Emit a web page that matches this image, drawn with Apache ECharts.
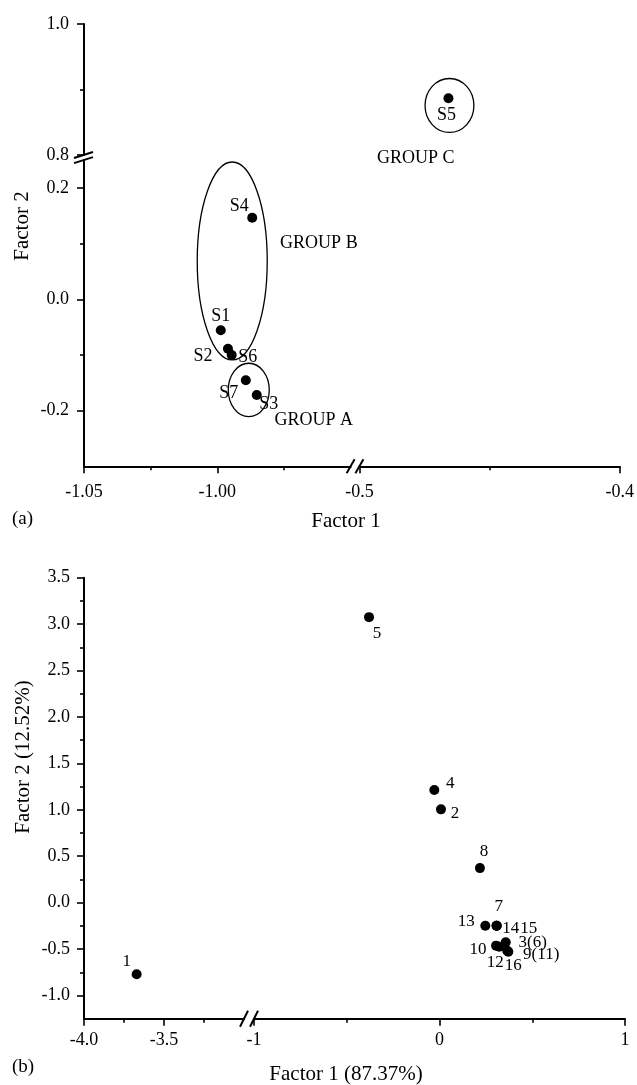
<!DOCTYPE html>
<html><head><meta charset="utf-8">
<script src="https://cdn.jsdelivr.net/npm/echarts@6/dist/echarts.min.js"></script>
<style>html,body{margin:0;padding:0;background:#fff}#c{width:637px;height:1085px}</style>
</head><body><div id="c"></div>
<script>
// ---------- DATA ----------
// Panel (a): samples in lower-left segment
const aNames = ['S1', 'S2', 'S3', 'S4', 'S6', 'S7'];
const aX = [-0.9987, -0.9960, -0.9852, -0.9869, -0.9946, -0.9893];
const aY = [-0.0557, -0.0887, -0.1720, 0.1466, -0.1000, -0.1455];
// Panel (a): sample in upper-right segment
const a2Names = ['S5'];
const a2X = [-0.4658];
const a2Y = [0.8866];
// Panel (a): group ellipses (centre, radii in data units) and group label anchors
const grpLowNames = ['GROUP A', 'GROUP B'];
const grpLowCx = [-0.9882, -0.9944];
const grpLowCy = [-0.1629, 0.0688];
const grpLowRx = [0.00769, 0.01313];
const grpLowRy = [0.0480, 0.1778];
const grpLowLx = [-0.9638, -0.9619];
const grpLowLy = [-0.2168, 0.1006];
const grpUpNames = ['GROUP C'];
const grpUpCx = [-0.4654];
const grpUpCy = [0.8756];
const grpUpRx = [0.00938];
const grpUpRy = [0.0412];
const grpUpLx = [-0.4784];
const grpUpLy = [0.7954];
// Panel (a) ticks
const aXTicksL = [-1.05, -1.00], aXMinorL = [-1.025, -0.975];
const aXTicksR = [-0.5, -0.4], aXMinorR = [-0.45];
const aYTicksLow = [-0.2, 0.0, 0.2], aYMinorLow = [-0.1, 0.1];
const aYTicksUp = [0.8, 1.0], aYMinorUp = [0.9];

// Panel (b)
const b1Names = ['1'];
const b1X = [-3.671];
const b1Y = [-0.772];
const b2Names = ['2', '3(6)', '4', '5', '7', '8', '9(11)', '10', '12', '13', '14', '15', '16'];
const b2X = [0.008, 0.357, -0.028, -0.380, 0.308, 0.218, 0.365, 0.305, 0.322, 0.247, 0.308, 0.308, 0.371];
const b2Y = [1.005, -0.427, 1.214, 3.075, -0.248, 0.372, -0.517, -0.463, -0.474, -0.248, -0.248, -0.248, -0.528];
const bXTicksL = [-4.0, -3.5], bXMinorL = [-3.75, -3.25];
const bXTicksR = [-1, 0, 1], bXMinorR = [-0.5, 0.5];
const bYTicks = [-1.0, -0.5, 0.0, 0.5, 1.0, 1.5, 2.0, 2.5, 3.0, 3.5];
const bYMinor = [-0.75, -0.25, 0.25, 0.75, 1.25, 1.75, 2.25, 2.75, 3.25];

// ---------- STYLE ----------
const FONT = '"Liberation Serif", "Times New Roman", serif';
const labelOffsets = {
  S1: [0, -14], S2: [-25, 8], S3: [12, 9], S4: [-13, -11], S5: [-2, 17], S6: [16, 2], S7: [-17, 13],
  '1': [-10, -13], '2': [14, 4], '3(6)': [27, 0], '4': [16, -6], '5': [8, 16], '7': [2, -19],
  '8': [4, -17], '9(11)': [34, 4], '10': [-18, 4], '12': [-4, 16], '13': [-19, -4],
  '14': [14, 3], '15': [32, 3], '16': [5, 14]
};
const GA1 = {left: 84, top: 160.1, width: 266.6, height: 306.2};
const GA2 = {left: 359.4, top: 24, width: 266.6, height: 131};
const GB1 = {left: 84, top: 577.7, width: 160, height: 441};
const GB2 = {left: 254, top: 577.7, width: 371, height: 441};
const offA2x = (GA1.top + GA1.height) - (GA2.top + GA2.height);
const offA2y = GA2.left - GA1.left;

function mainAxis(gridIndex, min, max, ticks, dec, pos, margin, offset) {
  return {
    type: 'value', gridIndex, min, max, position: pos, offset: offset || 0,
    axisLine: {show: true, onZero: false, lineStyle: {color: '#000', width: 2}},
    axisTick: {show: true, inside: false, length: 7, customValues: ticks, lineStyle: {color: '#000', width: 1.6}},
    axisLabel: {show: true, customValues: ticks, margin, color: '#000', fontFamily: FONT, fontSize: 18,
      formatter: v => Number(v).toFixed(dec)},
    splitLine: {show: false}
  };
}
function minorAxis(gridIndex, min, max, ticks, pos, offset) {
  return {
    type: 'value', gridIndex, min, max, position: pos, offset: offset || 0,
    axisLine: {show: false, onZero: false},
    axisTick: {show: true, inside: false, length: 4, customValues: ticks, lineStyle: {color: '#000', width: 1.6}},
    axisLabel: {show: false},
    splitLine: {show: false}
  };
}
function pts(names, xs, ys) { return names.map((n, i) => ({name: n, value: [xs[i], ys[i]]})); }
function scatter(xi, yi, names, xs, ys, fs) {
  return {
    type: 'scatter', xAxisIndex: xi, yAxisIndex: yi, symbol: 'circle', symbolSize: 10, clip: false,
    itemStyle: {color: '#000', opacity: 1},
    data: pts(names, xs, ys).map(d => Object.assign(d, {label: {offset: labelOffsets[d.name] || [0, 0]}})),
    label: {show: true, position: 'inside', color: '#000', opacity: 1, fontFamily: FONT, fontSize: fs,
      formatter: p => p.name},
    emphasis: {disabled: true}, silent: true
  };
}
function ellipses(xi, yi, names, cx, cy, rx, ry, lx, ly) {
  return {
    type: 'custom', xAxisIndex: xi, yAxisIndex: yi, clip: false, silent: true,
    data: names.map((n, i) => [cx[i], cy[i], rx[i], ry[i], lx[i], ly[i]]),
    renderItem: function (params, api) {
      const c = api.coord([api.value(0), api.value(1)]);
      const s = api.size([api.value(2), api.value(3)]);
      const t = api.coord([api.value(4), api.value(5)]);
      return {type: 'group', children: [
        {type: 'ellipse', shape: {cx: c[0], cy: c[1], rx: s[0], ry: s[1]},
          style: {fill: 'none', stroke: '#000', lineWidth: 1.3}},
        {type: 'text', x: t[0], y: t[1], style: {text: names[params.dataIndex], fill: '#000',
          fontFamily: FONT, fontSize: 18, align: 'center', verticalAlign: 'middle'}}
      ]};
    }
  };
}

const chart = echarts.init(document.getElementById('c'), null, {renderer: 'canvas'});
const option = {
  animation: false,
  backgroundColor: '#fff',
  grid: [
    Object.assign({containLabel: false}, GA1),
    Object.assign({containLabel: false}, GA2),
    Object.assign({containLabel: false}, GB1),
    Object.assign({containLabel: false}, GB2)
  ],
  xAxis: [
    mainAxis(0, -1.05, -0.95, aXTicksL, 2, 'bottom', 17),
    minorAxis(0, -1.05, -0.95, aXMinorL, 'bottom'),
    mainAxis(1, -0.5, -0.4, aXTicksR, 1, 'bottom', 17, offA2x),
    minorAxis(1, -0.5, -0.4, aXMinorR, 'bottom', offA2x),
    mainAxis(2, -4.0, -3.0, bXTicksL, 1, 'bottom', 13),
    minorAxis(2, -4.0, -3.0, bXMinorL, 'bottom'),
    mainAxis(3, -1, 1, bXTicksR, 0, 'bottom', 13),
    minorAxis(3, -1, 1, bXMinorR, 'bottom')
  ],
  yAxis: [
    mainAxis(0, -0.3, 0.25, aYTicksLow, 1, 'left', 15),
    minorAxis(0, -0.3, 0.25, aYMinorLow, 'left'),
    mainAxis(1, 0.8, 1.0, aYTicksUp, 1, 'left', 15, offA2y),
    minorAxis(1, 0.8, 1.0, aYMinorUp, 'left', offA2y),
    mainAxis(2, -1.25, 3.5, bYTicks, 1, 'left', 14),
    minorAxis(2, -1.25, 3.5, bYMinor, 'left'),
    {type: 'value', gridIndex: 3, min: -1.25, max: 3.5, show: false}
  ],
  series: [
    ellipses(0, 0, grpLowNames, grpLowCx, grpLowCy, grpLowRx, grpLowRy, grpLowLx, grpLowLy),
    ellipses(2, 2, grpUpNames, grpUpCx, grpUpCy, grpUpRx, grpUpRy, grpUpLx, grpUpLy),
    scatter(0, 0, aNames, aX, aY, 18),
    scatter(2, 2, a2Names, a2X, a2Y, 18),
    scatter(4, 4, b1Names, b1X, b1Y, 17),
    scatter(6, 6, b2Names, b2X, b2Y, 17)
  ],
  graphic: [
    {id: 'ta', type: 'text', x: 12, y: 519, style: {text: '(a)', fill: '#000', fontFamily: FONT, fontSize: 19, align: 'left', verticalAlign: 'middle'}},
    {id: 'tb', type: 'text', x: 12, y: 1067, style: {text: '(b)', fill: '#000', fontFamily: FONT, fontSize: 19, align: 'left', verticalAlign: 'middle'}},
    {id: 'xa', type: 'text', x: 346, y: 521, style: {text: 'Factor 1', fill: '#000', fontFamily: FONT, fontSize: 21, align: 'center', verticalAlign: 'middle'}},
    {id: 'xb', type: 'text', x: 346, y: 1074, style: {text: 'Factor 1 (87.37%)', fill: '#000', fontFamily: FONT, fontSize: 21, align: 'center', verticalAlign: 'middle'}},
    {id: 'ya', type: 'text', x: 22, y: 226, rotation: Math.PI / 2, style: {text: 'Factor 2', fill: '#000', fontFamily: FONT, fontSize: 21, align: 'center', verticalAlign: 'middle'}},
    {id: 'yb', type: 'text', x: 23, y: 757, rotation: Math.PI / 2, style: {text: 'Factor 2 (12.52%)', fill: '#000', fontFamily: FONT, fontSize: 21, align: 'center', verticalAlign: 'middle'}}
  ]
};
chart.setOption(option);

// ---------- axis break marks, positioned through the axes ----------
const px = (i, v) => chart.convertToPixel({xAxisIndex: i}, v);
const py = (i, v) => chart.convertToPixel({yAxisIndex: i}, v);
const brk = [];
function slash(id, x1, y1, x2, y2) {
  brk.push({id, type: 'line', shape: {x1, y1, x2, y2}, style: {stroke: '#000', lineWidth: 2}});
}
// (a) x-axis break
{
  const y = py(0, -0.3), xl = px(0, -0.95), xr = px(2, -0.5);
  slash('ax1', xl - 4, y + 7, xl + 4, y - 7);
  slash('ax2', xr - 4, y + 7, xr + 4, y - 7);
}
// (a) y-axis break
{
  const x = px(0, -1.05), yu = py(2, 0.8), yl = py(0, 0.25);
  slash('ay1', x - 10, yu + 3, x + 9, yu - 3);
  slash('ay2', x - 10, yl + 3, x + 9, yl - 3);
}
// (b) x-axis break
{
  const y = py(4, -1.25), xl = px(4, -3.0), xr = px(6, -1);
  slash('bx1', xl - 4, y + 8, xl + 4, y - 8);
  slash('bx2', xr - 4, y + 8, xr + 4, y - 8);
}
chart.setOption({graphic: brk});
</script>
</body></html>
